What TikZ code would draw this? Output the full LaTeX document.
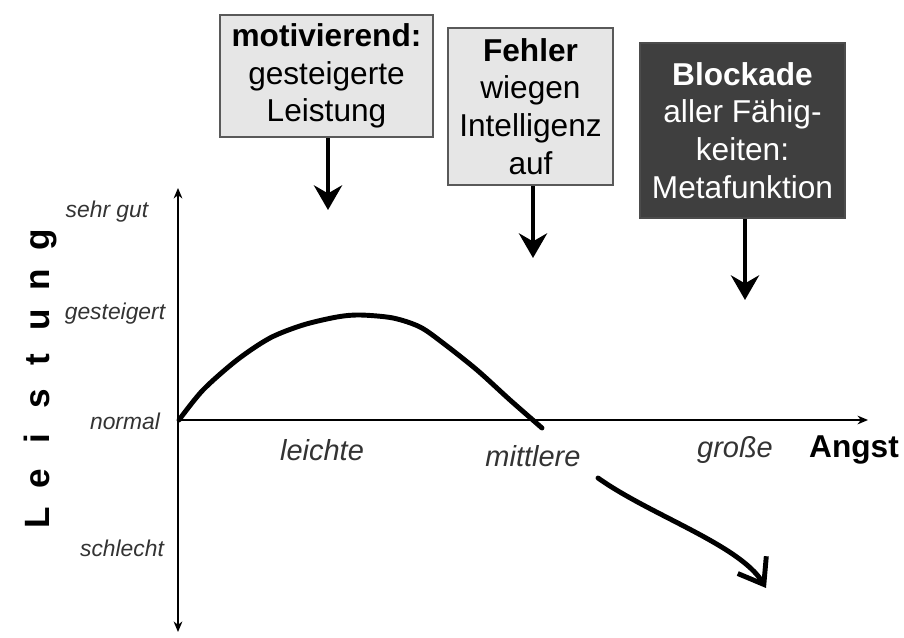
\documentclass[tikz,border=0pt]{standalone}
\usepackage{fontspec}
\setmainfont{Liberation Sans}
\usetikzlibrary{arrows.meta,positioning}
\definecolor{boxgray}{HTML}{E6E6E6}
\definecolor{boxdark}{HTML}{3F3F3F}
\definecolor{labelgray}{HTML}{333333}
\newcommand{\spacedletter}[1]{\makebox[22.6pt]{#1}}
\tikzset{
  card/.style={draw=gray!70!black,line width=1.2pt,align=center,inner sep=2pt,
    font=\fontsize{18}{21.5}\selectfont},
  lightcard/.style={card,fill=boxgray,text=black},
  darkcard/.style={card,fill=boxdark,draw=gray!60!black,text=white},
  drop/.style={-{Stealth[length=14pt,width=16pt]},line width=2.8pt},
  axis/.style={-{Stealth[length=6pt,width=5pt]},line width=0.9pt},
  level/.style={font=\fontsize{13}{15}\selectfont\itshape,text=labelgray},
  grade/.style={font=\fontsize{16.5}{19}\selectfont\itshape,text=labelgray},
  curve/.style={line width=2.8pt,line cap=round,line join=round}
}
\begin{document}
\begin{tikzpicture}[x=0.02cm,y=-0.02cm]
\useasboundingbox (0,0) rectangle (904,638);
\node[lightcard,minimum width=4.26cm,minimum height=2.44cm] (motiv) at (326.5,76)
  {\textbf{motivierend:}\\gesteigerte\\Leistung};
\node[lightcard,minimum width=3.3cm,minimum height=3.14cm] (fehler) at (530.5,106.5)
  {\textbf{Fehler}\\wiegen\\Intelligenz\\auf};
\node[darkcard,minimum width=4.1cm,minimum height=3.5cm] (blockade) at (742.5,130.5)
  {\textbf{Blockade}\\aller Fähig-\\keiten:\\Metafunktion};
\coordinate (motivtip) at (328,210);
\coordinate (fehlertip) at (533,258);
\coordinate (blockadetip) at (745,300);
\draw[drop] (motivtip |- motiv.south) -- (motivtip);
\draw[drop] (fehlertip |- fehler.south) -- (fehlertip);
\draw[drop] (blockadetip |- blockade.south) -- (blockadetip);
\coordinate (origin) at (178,420);
\coordinate (ytop) at (178,188);
\coordinate (ybot) at (178,632);
\coordinate (xend) at (868,420);
\draw[axis,{Stealth[length=6pt,width=5pt]}-{Stealth[length=6pt,width=5pt]}] (ybot) -- (ytop);
\draw[axis] (origin) -- (xend);
\node[level] (sehrgut) at (107,212) {sehr gut};
\node[level] (gesteigert) at (115,314) {gesteigert};
\node[level] (normal) at (125,421) {normal};
\node[level] (schlecht) at (122,548) {schlecht};
\node[grade] (leichte) at (322,450) {leichte};
\node[grade] (mittlere) at (533,456) {mittlere};
\node[grade] (grosse) at (735,450) {große};
\node[font=\fontsize{18}{21}\selectfont\bfseries] (angst) at (854,450) {Angst};
\node[rotate=90,anchor=base,font=\fontsize{20}{22}\selectfont\bfseries] (leistung) at (50,379)
  {\spacedletter{L}\spacedletter{e}\spacedletter{i}\spacedletter{s}\spacedletter{t}\spacedletter{u}\spacedletter{n}\spacedletter{g}};
\draw[curve] plot[smooth] coordinates {(179,420) (203,390) (237,360) (270,338) (303,325)
  (337,317) (360,315) (393,318) (420,327) (443,343) (477,370) (510,400) (542,428)};
\draw[curve,-{Straight Barb[length=13pt,width=19pt]}] (598,478) .. controls (650,515) and (740,545) .. (766,588);
\end{tikzpicture}
\end{document}
